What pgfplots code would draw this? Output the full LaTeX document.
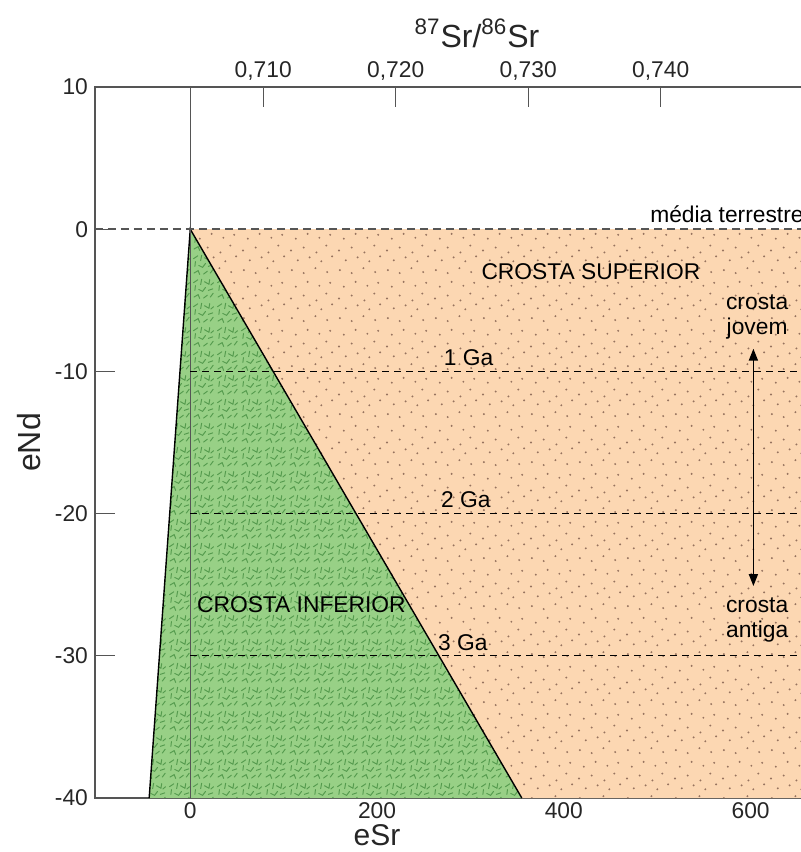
\documentclass[border=0pt]{standalone}
\usepackage{pgfplots}
\pgfplotsset{compat=1.18}
\usepackage{fontspec}
\setmainfont{Liberation Sans}
\usetikzlibrary{patterns,arrows.meta}

\definecolor{crustsup}{RGB}{252,215,178}
\definecolor{crustinf}{RGB}{152,208,134}
\definecolor{stipdot}{RGB}{150,115,95}
\definecolor{greenmark}{RGB}{85,155,78}
\definecolor{axisgray}{RGB}{85,85,85}

% scattered stipple for the upper crust
\pgfdeclarepatternformonly{stipple}{\pgfqpoint{0pt}{0pt}}{\pgfqpoint{24pt}{24pt}}{\pgfqpoint{24pt}{24pt}}{%
  \pgfpathcircle{\pgfpoint{2pt}{3pt}}{0.55pt}
  \pgfpathcircle{\pgfpoint{8pt}{1.5pt}}{0.55pt}
  \pgfpathcircle{\pgfpoint{14pt}{4pt}}{0.55pt}
  \pgfpathcircle{\pgfpoint{20pt}{2pt}}{0.55pt}
  \pgfpathcircle{\pgfpoint{5pt}{8pt}}{0.55pt}
  \pgfpathcircle{\pgfpoint{11pt}{9.5pt}}{0.55pt}
  \pgfpathcircle{\pgfpoint{17pt}{7.5pt}}{0.55pt}
  \pgfpathcircle{\pgfpoint{22.5pt}{10pt}}{0.55pt}
  \pgfpathcircle{\pgfpoint{1.5pt}{13pt}}{0.55pt}
  \pgfpathcircle{\pgfpoint{8pt}{14.5pt}}{0.55pt}
  \pgfpathcircle{\pgfpoint{14.5pt}{12pt}}{0.55pt}
  \pgfpathcircle{\pgfpoint{19.5pt}{15.5pt}}{0.55pt}
  \pgfpathcircle{\pgfpoint{4pt}{19pt}}{0.55pt}
  \pgfpathcircle{\pgfpoint{10pt}{21.5pt}}{0.55pt}
  \pgfpathcircle{\pgfpoint{16pt}{19.5pt}}{0.55pt}
  \pgfpathcircle{\pgfpoint{21.5pt}{21pt}}{0.55pt}
  \pgfusepath{fill}}

% short strokes for the lower crust
\pgfdeclarepatternformonly{greenmarks}{\pgfqpoint{0pt}{0pt}}{\pgfqpoint{12pt}{12pt}}{\pgfqpoint{12pt}{12pt}}{%
  \pgfsetlinewidth{0.5pt}
  \pgfsetroundcap
  \pgfpathmoveto{\pgfpoint{1.0pt}{1.5pt}}\pgfpathlineto{\pgfpoint{3.2pt}{2.8pt}}\pgfpathlineto{\pgfpoint{4.0pt}{0.8pt}}
  \pgfpathmoveto{\pgfpoint{6.0pt}{1.0pt}}\pgfpathlineto{\pgfpoint{8.0pt}{2.5pt}}
  \pgfpathmoveto{\pgfpoint{9.5pt}{1.5pt}}\pgfpathlineto{\pgfpoint{11.0pt}{3.5pt}}
  \pgfpathmoveto{\pgfpoint{1.5pt}{5.0pt}}\pgfpathlineto{\pgfpoint{1.8pt}{7.5pt}}
  \pgfpathmoveto{\pgfpoint{3.5pt}{5.5pt}}\pgfpathlineto{\pgfpoint{5.5pt}{4.5pt}}\pgfpathlineto{\pgfpoint{7.0pt}{6.5pt}}
  \pgfpathmoveto{\pgfpoint{8.5pt}{5.0pt}}\pgfpathlineto{\pgfpoint{10.8pt}{5.8pt}}
  \pgfpathmoveto{\pgfpoint{0.8pt}{9.0pt}}\pgfpathlineto{\pgfpoint{3.0pt}{10.5pt}}
  \pgfpathmoveto{\pgfpoint{4.5pt}{8.0pt}}\pgfpathlineto{\pgfpoint{5.0pt}{10.8pt}}
  \pgfpathmoveto{\pgfpoint{6.5pt}{9.5pt}}\pgfpathlineto{\pgfpoint{8.8pt}{8.2pt}}\pgfpathlineto{\pgfpoint{9.2pt}{10.6pt}}
  \pgfpathmoveto{\pgfpoint{9.8pt}{7.8pt}}\pgfpathlineto{\pgfpoint{11.2pt}{9.0pt}}
  \pgfusepath{stroke}}

\begin{document}
\begin{tikzpicture}
\pgfplotsset{
  frame/.style={
    scale only axis, width=374.5pt, height=355.5pt,
    xmin=-102, xmax=700, ymin=-40, ymax=10,
    major tick length=10pt,
    axis line style={axisgray, line width=0.75pt},
    tick style={axisgray, line width=0.6pt},
    ticklabel style={font=\fontsize{11.4}{13}\selectfont, text=black!85},
    label style={font=\fontsize{16}{18}\selectfont, text=black!85},
  }
}
\begin{axis}[
  frame,
  xtick={0,200,400,600}, xticklabels={0,200,400,600},
  ytick={-40,-30,-20,-10,0,10}, yticklabels={-40,-30,-20,-10,0,10},
  xtick pos=bottom, ytick pos=left, tick align=inside,
  xticklabel style={inner sep=1pt, yshift=-1pt},
  xlabel={eSr}, ylabel={eNd},
  xlabel style={at={(axis description cs:0.3766,0)}, anchor=base, inner sep=0pt,
    yshift=-23.8pt, font=\fontsize{15}{17}\selectfont},
]
% upper crust
\addplot [draw=none, fill=crustsup, postaction={pattern=stipple, pattern color=stipdot}]
  coordinates {(0,0) (720,0) (720,-40) (355,-40)};
% lower crust
\addplot [draw=none, fill=crustinf, postaction={pattern=greenmarks, pattern color=greenmark}]
  coordinates {(0,0) (-44,-40) (355,-40)};
\addplot [black, line width=0.7pt] coordinates {(-44,-40) (0,0) (355,-40)};
% eSr = 0
\addplot [axisgray, line width=0.6pt] coordinates {(0,-40) (0,10)};
% bulk earth and model ages
\addplot [axisgray, line width=0.9pt, dash pattern=on 4pt off 2.5pt] coordinates {(-102,0) (720,0)};
\addplot [black, line width=0.5pt, dash pattern=on 3.5pt off 2.5pt] coordinates {(0,-10) (720,-10)};
\addplot [black, line width=0.5pt, dash pattern=on 3.5pt off 2.5pt] coordinates {(0,-20) (720,-20)};
\addplot [black, line width=0.5pt, dash pattern=on 3.5pt off 2.5pt] coordinates {(0,-30) (720,-30)};
% young to old crust
\addplot [black, line width=0.85pt, {Triangle[length=6pt,width=4.5pt]}-{Triangle[length=6pt,width=4.5pt]}]
  coordinates {(603,-8.4) (603,-25.1)};

\node[anchor=base west, font=\fontsize{11.4}{13}\selectfont] at (axis cs:485,0.45) {média terrestre};
\node[font=\fontsize{11.4}{13}\selectfont] at (axis cs:429,-3.0) {CROSTA SUPERIOR};
\node[font=\fontsize{11.4}{12.5}\selectfont, align=center] at (axis cs:607,-6.15) {crosta\\jovem};
\node[font=\fontsize{11.4}{12.5}\selectfont, align=center] at (axis cs:607,-27.5) {crosta\\antiga};
\node[font=\fontsize{11.4}{13}\selectfont] at (axis cs:298,-9.0) {1 Ga};
\node[font=\fontsize{11.4}{13}\selectfont] at (axis cs:295,-19.05) {2 Ga};
\node[font=\fontsize{11.4}{13}\selectfont] at (axis cs:292,-29.1) {3 Ga};
\node[font=\fontsize{11.4}{13}\selectfont] at (axis cs:119,-26.4) {CROSTA INFERIOR};
\coordinate (ll) at (rel axis cs:0,0);
\end{axis}
% 87Sr/86Sr scale along the top
\begin{axis}[
  frame,
  axis x line*=top, axis y line=none,
  xtick={78.07,220.0,361.9,503.8},
  xticklabels={{0,710},{0,720},{0,730},{0,740}},
  xtick align=inside,
  xlabel={\textsuperscript{87}Sr/\textsuperscript{86}Sr},
  xlabel style={at={(ticklabel cs:0.51)}},
]
\end{axis}
\pgfresetboundingbox
\path[use as bounding box] ([shift={(-47.5pt,-27pt)}]ll) rectangle ([shift={(352.5pt,399pt)}]ll);
\end{tikzpicture}
\end{document}
